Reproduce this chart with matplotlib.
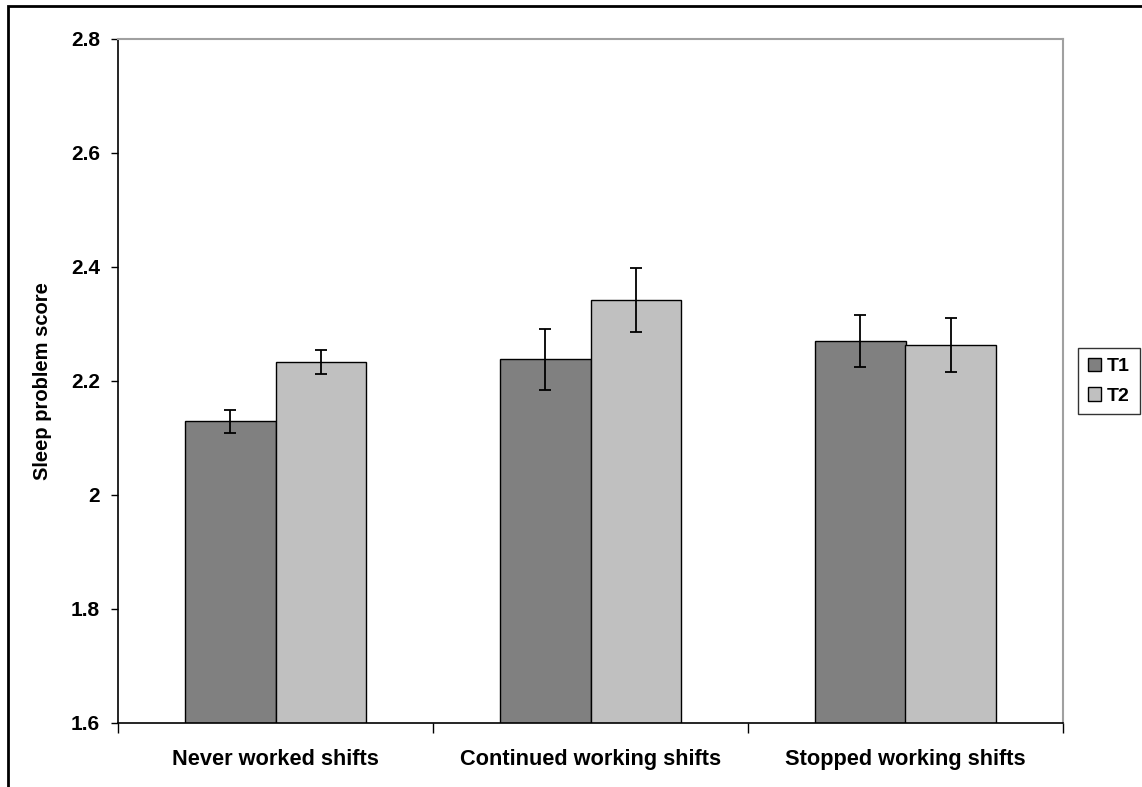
import numpy as np
import matplotlib.pyplot as plt
from matplotlib.patches import Rectangle
from matplotlib.ticker import FixedLocator

plt.rcParams['font.family'] = ['Liberation Sans', 'DejaVu Sans']
plt.rcParams['font.weight'] = 'bold'

# data
groups = ['Never worked shifts', 'Continued working shifts', 'Stopped working shifts']
t1_means = [2.129, 2.238, 2.270]
t2_means = [2.233, 2.342, 2.263]
t1_err = [0.021, 0.053, 0.045]
t2_err = [0.021, 0.056, 0.047]
series_names = ['T1', 'T2']
y_ticks = [1.6, 1.8, 2.0, 2.2, 2.4, 2.6, 2.8]
y_tick_labels = ['1.6', '1.8', '2', '2.2', '2.4', '2.6', '2.8']

fig = plt.figure(figsize=(11.42, 7.87), dpi=100)
ax = fig.add_axes([118 / 1142, 1 - 723 / 787, 945 / 1142, 684 / 787])

# outer chart frame, running off the right and bottom edges
fig.patches.append(Rectangle((8 / 1142, -0.05), 1.2, 1.05 - 6 / 787,
                             transform=fig.transFigure, fill=False,
                             edgecolor='black', linewidth=2))

x = np.arange(len(groups))
w = 0.286
err_kw = dict(ecolor='black', elinewidth=1.3, capsize=4, capthick=1.3)
ax.bar(x - w / 2, t1_means, w, yerr=t1_err, color='#808080',
       edgecolor='black', linewidth=1, label=series_names[0], error_kw=err_kw)
ax.bar(x + w / 2, t2_means, w, yerr=t2_err, color='#c0c0c0',
       edgecolor='black', linewidth=1, label=series_names[1], error_kw=err_kw)

ax.set_xlim(-0.5, 2.5)
ax.set_ylim(1.6, 2.8)
ax.set_yticks(y_ticks)
ax.set_yticklabels(y_tick_labels)
ax.tick_params(axis='y', labelsize=15, length=5, width=1, pad=8, direction='out')

ax.set_xticks(x)
ax.set_xticklabels(groups, fontsize=15.7, fontweight='bold')
ax.tick_params(axis='x', which='major', length=0, pad=19)
ax.xaxis.set_minor_locator(FixedLocator([-0.5, 0.5, 1.5, 2.5]))
ax.tick_params(axis='x', which='minor', length=7, width=1, direction='out')

ax.set_ylabel('Sleep problem score', fontsize=14.5, fontweight='bold')
ax.yaxis.set_label_coords(-66 / 945, 0.5)

for s in ['left', 'bottom']:
    ax.spines[s].set_color('black')
    ax.spines[s].set_linewidth(1.2)
for s in ['top', 'right']:
    ax.spines[s].set_color('#a0a0a0')
    ax.spines[s].set_linewidth(1.5)

leg = fig.legend(loc='upper left', bbox_to_anchor=(1078 / 1142, 1 - 348 / 787),
                 frameon=True, fancybox=False, edgecolor='black',
                 prop={'size': 14, 'weight': 'bold'}, handlelength=0.7,
                 handleheight=0.7, handletextpad=0.3, borderpad=0.5,
                 labelspacing=0.6, borderaxespad=0)
leg.get_frame().set_linewidth(1)

fig.savefig('out.png', dpi=100)
